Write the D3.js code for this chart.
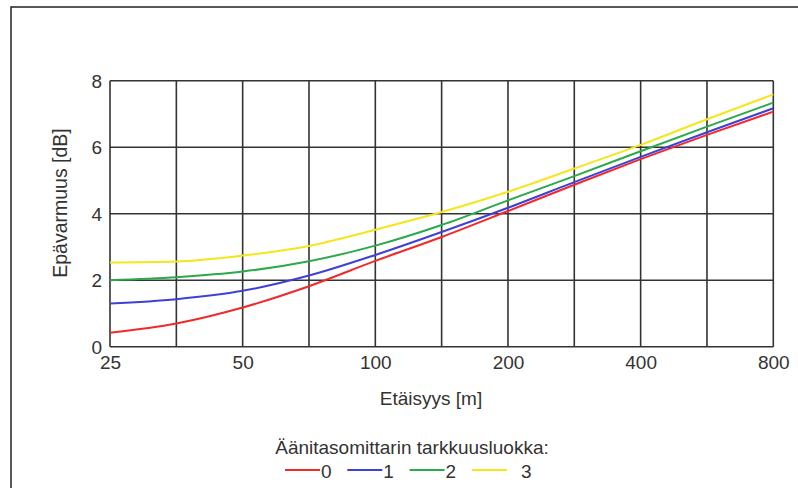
<!DOCTYPE html>
<html>
<head>
<meta charset="utf-8">
<script src="https://cdn.jsdelivr.net/npm/d3@7"></script>
<style>
  html, body { margin: 0; padding: 0; background: #fff; }
  svg { display: block; }
  text { font-family: "Liberation Sans", Arial, sans-serif; fill: #333; }
</style>
</head>
<body>
<svg id="chart" width="798" height="488"></svg>
<script>
// Distances (m) at which values were read (vertical gridlines)
const distances = [25, 35.36, 50, 70.71, 100, 141.4, 200, 282.8, 400, 565.7, 800];
const xTickLabels = [25, 50, 100, 200, 400, 800];
const yTicks = [0, 2, 4, 6, 8];

const seriesNames = ["0", "1", "2", "3"];
const class0 = [0.42, 0.70, 1.18, 1.82, 2.58, 3.30, 4.08, 4.87, 5.64, 6.37, 7.07];
const class1 = [1.30, 1.43, 1.68, 2.14, 2.76, 3.45, 4.18, 4.95, 5.71, 6.45, 7.17];
const class2 = [2.00, 2.09, 2.26, 2.57, 3.04, 3.66, 4.40, 5.13, 5.88, 6.62, 7.34];
const class3 = [2.53, 2.56, 2.74, 3.03, 3.52, 4.05, 4.66, 5.36, 6.07, 6.84, 7.59];
const seriesValues = [class0, class1, class2, class3];
const colors = ["#f02a2a", "#4040d8", "#2aaa48", "#f5e61a"];

const svg = d3.select("#chart");
const L = 110, R = 773.3, T = 80.7, B = 346.7;

const x = d3.scaleLog().domain([25, 800]).range([L, R]);
const y = d3.scaleLinear().domain([0, 8]).range([B, T]);

// outer frame (top and left)
svg.append("path")
  .attr("d", `M11,488 L11,7 L798,7`)
  .attr("fill", "none").attr("stroke", "#222").attr("stroke-width", 1.5);

// gridlines
const grid = svg.append("g");
grid.selectAll("line.v").data(distances).join("line")
  .attr("x1", d => x(d)).attr("x2", d => x(d))
  .attr("y1", T).attr("y2", B)
  .attr("stroke", "#333").attr("stroke-width", 1.6);
grid.selectAll("line.h").data(yTicks).join("line")
  .attr("x1", L).attr("x2", R)
  .attr("y1", d => y(d)).attr("y2", d => y(d))
  .attr("stroke", "#333").attr("stroke-width", 1.6);

// axes
const xAxis = d3.axisBottom(x).tickValues(xTickLabels).tickFormat(d3.format("d")).tickSize(0).tickPadding(0);
const gx = svg.append("g").attr("transform", `translate(0,${B})`).call(xAxis);
gx.select(".domain").remove();
gx.selectAll("text").attr("dy", null).attr("y", 22.5).style("font-size", "19px").style("fill", "#333");

const yAxis = d3.axisLeft(y).tickValues(yTicks).tickSize(0).tickPadding(0);
const gy = svg.append("g").attr("transform", `translate(${L},0)`).call(yAxis);
gy.select(".domain").remove();
gy.selectAll("text").attr("x", -8).attr("dy", "0.35em").style("font-size", "19px").style("fill", "#333");

// curves
const line = d3.line()
  .x((d, i) => x(distances[i]))
  .y(d => y(d))
  .curve(d3.curveMonotoneX);

svg.append("g").selectAll("path").data(seriesValues).join("path")
  .attr("d", d => line(d))
  .attr("fill", "none")
  .attr("stroke", (d, i) => colors[i])
  .attr("stroke-width", 2);

// axis titles
svg.append("text")
  .attr("x", 431).attr("y", 405)
  .attr("text-anchor", "middle")
  .style("font-size", "19px")
  .text("Etäisyys [m]");

svg.append("text")
  .attr("transform", "translate(67,203) rotate(-90)")
  .attr("text-anchor", "middle")
  .style("font-size", "19.5px")
  .text("Epävarmuus [dB]");

// legend
svg.append("text")
  .attr("x", 412).attr("y", 454)
  .attr("text-anchor", "middle")
  .style("font-size", "19px")
  .text("Äänitasomittarin tarkkuusluokka:");

const leg = svg.append("g");
const legItems = leg.selectAll("g").data(seriesNames).join("g")
  .attr("transform", (d, i) => `translate(${285 + i * 62.3},0)`);
legItems.append("line")
  .attr("x1", 0).attr("x2", 35).attr("y1", 470).attr("y2", 470)
  .attr("stroke", (d, i) => colors[i]).attr("stroke-width", 2);
legItems.append("text")
  .attr("x", (d, i) => i === 3 ? 49 : 36).attr("y", 477.5)
  .style("font-size", "19px")
  .text(d => d);
</script>
</body>
</html>
